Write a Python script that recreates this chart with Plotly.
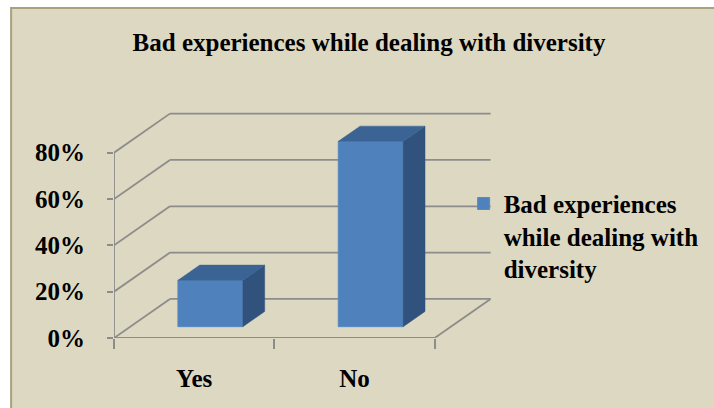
import plotly.graph_objects as go

# ---- data ----
categories = ["Yes", "No"]
values = [20, 80]                      # percent
y_ticks = [0, 20, 40, 60, 80]
y_tick_labels = ["0%", "20%", "40%", "60%", "80%"]
series_name = "Bad experiences<br>while dealing with<br>diversity"
title_text = "Bad experiences while dealing with diversity"

# ---- geometry (pixels) ----
W, H = 714, 408
L, B = 114, 338
PX_PER_CAT = 160.5
PX_PER_PCT = 2.3125
R = 494.4
T = B - 98 * PX_PER_PCT
DXC = 56 / PX_PER_CAT          # depth offset in category units
DYV = 39 / PX_PER_PCT          # depth offset in percent units
TF, TB = 0.29, 0.68            # bar front / back depth fraction
BAR_W = 0.405

xr = [-0.5, -0.5 + (R - L) / PX_PER_CAT]
yr = [0, (B - T) / PX_PER_PCT]

def paper_x(px):
    return (px - L) / (R - L)

def paper_y(py):
    return (B - py) / (B - T)

BG = "#DDD8C2"
GRID = "#8C8C8C"
FRONT = "#4F81BD"
TOP = "#3B6494"
SIDE = "#31527C"
FONT = "Liberation Serif, Times New Roman, serif"

n = len(categories)
xi = list(range(n))
x0, x1 = -0.5, n - 0.5

shapes = []
# frame
shapes.append(dict(type="rect", xref="paper", yref="paper", layer="below",
                   x0=paper_x(11), x1=paper_x(730), y0=paper_y(430), y1=paper_y(8.5),
                   fillcolor=BG, line=dict(color="#A8A17A", width=2)))
line_style = dict(color=GRID, width=1.8)
for v in y_ticks:
    # side wall slant
    shapes.append(dict(type="line", xref="x", yref="y", layer="below",
                       x0=x0, y0=v, x1=x0 + DXC, y1=v + DYV, line=line_style))
    # back wall gridline
    shapes.append(dict(type="line", xref="x", yref="y", layer="below",
                       x0=x0 + DXC, y0=v + DYV, x1=x1 + DXC, y1=v + DYV, line=line_style))
# front axis lines and floor edge
shapes.append(dict(type="line", xref="x", yref="y", layer="below",
                   x0=x0, y0=0, x1=x0, y1=max(y_ticks), line=line_style))
shapes.append(dict(type="line", xref="x", yref="y", layer="below",
                   x0=x0, y0=0, x1=x1, y1=0, line=line_style))
shapes.append(dict(type="line", xref="x", yref="y", layer="below",
                   x0=x1, y0=0, x1=x1 + DXC, y1=DYV, line=line_style))

fig = go.Figure()

# front faces
fig.add_trace(go.Bar(
    x=[c + TF * DXC for c in xi], y=values, base=TF * DYV, width=BAR_W,
    marker=dict(color=FRONT, line=dict(color="#5A8AC4", width=1)),
    name=series_name, showlegend=True, hoverinfo="skip"))

# side and top faces
for c, v in zip(xi, values):
    fx = c + TF * DXC
    bx = c + TB * DXC
    fy = TF * DYV
    by = TB * DYV
    xr_f = fx + BAR_W / 2
    xr_b = bx + BAR_W / 2
    xl_f = fx - BAR_W / 2
    xl_b = bx - BAR_W / 2
    fig.add_trace(go.Scatter(
        x=[xr_f, xr_b, xr_b, xr_f, xr_f], y=[fy, by, v + by, v + fy, fy],
        fill="toself", fillcolor=SIDE, mode="lines", line=dict(color=SIDE, width=0.5),
        showlegend=False, hoverinfo="skip"))
    fig.add_trace(go.Scatter(
        x=[xl_f, xl_b, xr_b, xr_f, xl_f], y=[v + fy, v + by, v + by, v + fy, v + fy],
        fill="toself", fillcolor=TOP, mode="lines", line=dict(color=TOP, width=0.5),
        showlegend=False, hoverinfo="skip"))

fig.update_layout(
    width=W, height=H,
    margin=dict(l=L, r=W - R, t=T, b=H - B, autoexpand=False),
    paper_bgcolor="white", plot_bgcolor="rgba(0,0,0,0)",
    title=dict(text=title_text, x=369 / W, xref="container", xanchor="center",
               y=1 - 42 / H, yref="container", yanchor="middle",
               font=dict(family=FONT, size=25, color="black", weight="bold")),
    showlegend=True,
    legend=dict(x=paper_x(464), y=paper_y(181), xanchor="left", yanchor="top",
                xref="paper", yref="paper", valign="top",
                bgcolor="rgba(0,0,0,0)", borderwidth=0,
                font=dict(family=FONT, size=25, color="black", weight="bold")),
    xaxis=dict(range=xr, showgrid=False, zeroline=False, showline=False,
               tickvals=xi, ticktext=categories, ticks="",
               ticklabelstandoff=23,
               tickfont=dict(family=FONT, size=25, color="black", weight="bold"),
               minor=dict(tickmode="array", tickvals=[x0 + k for k in range(n + 1)],
                          ticks="outside", ticklen=10, tickwidth=1.8, tickcolor=GRID,
                          showgrid=False),
               fixedrange=True),
    yaxis=dict(range=yr, showgrid=False, zeroline=False, showline=False,
               tickvals=y_ticks, ticktext=y_tick_labels, ticks="outside",
               ticklen=6, tickwidth=1.8, tickcolor=GRID, ticklabelstandoff=17,
               tickfont=dict(family=FONT, size=25, color="black", weight="bold"),
               fixedrange=True),
    shapes=shapes,
)

fig.write_html("out.html", config={"displayModeBar": False},
               post_script="document.body.style.margin='0';")
